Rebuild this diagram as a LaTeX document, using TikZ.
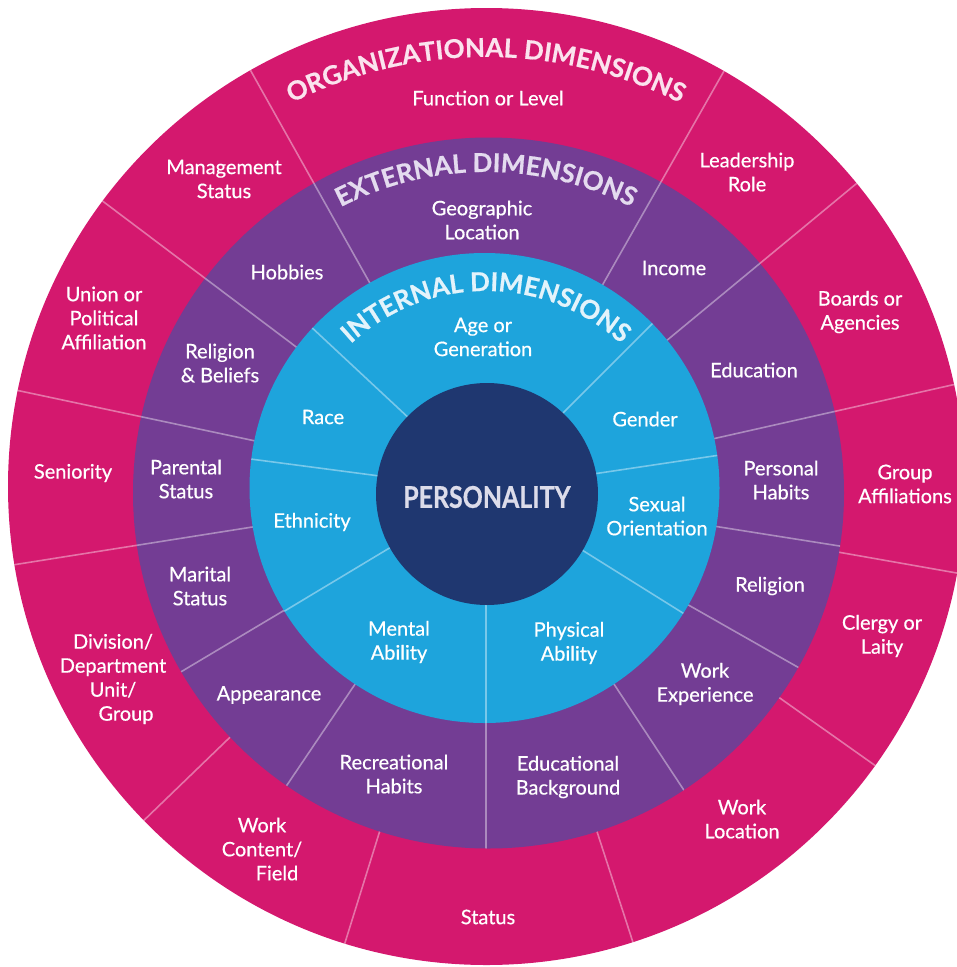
\documentclass[tikz,border=0pt]{standalone}
\usepackage{fontspec}
\setmainfont{Lato}
\newfontfamily\lblfont{Lato}[FakeBold=0.5]
\newfontfamily\ttlfont{Lato}[FakeBold=0.6]
\usepackage{graphicx}
\usepackage{xcolor}
\usetikzlibrary{decorations.text}
\definecolor{orgpink}{HTML}{D4186E}
\definecolor{extpurple}{HTML}{733D94}
\definecolor{intblue}{HTML}{1EA4DC}
\definecolor{corenavy}{HTML}{1F3770}
\definecolor{orgtitle}{HTML}{FBE3EE}
\definecolor{exttitle}{HTML}{E4DBEF}
\definecolor{inttitle}{HTML}{E3F3FB}
\definecolor{coretitle}{HTML}{DCDCEA}
\newcommand\ringtitle[3]{
  \path[decorate, decoration={text along path, text align=center,
    text={|\ttlfont\bfseries\fontsize{26}{30}\selectfont\color{#3}|#2}}]
    (486,-490) ++(170:#1) arc (170:10:#1);
}

\begin{document}
\begin{tikzpicture}[x=1pt, y=1pt,
	lbl/.style={text=white, align=center, inner sep=0pt, font=\lblfont\fontsize{20}{24}\selectfont},
	divline/.style={draw=white, draw opacity=0.4, line width=1.6pt},
	coretxt/.style={text=coretitle, inner sep=0pt, font=\ttlfont\bfseries\fontsize{30}{36}\selectfont}]
	    		\useasboundingbox (0,0) rectangle (957,-967);
	    		\fill[orgpink] (486.5,-486.5) circle (478.5);
	    		\begin{scope}
	    			\clip (486.5,-486.5) circle (478.5);
	    			\foreach \a in {12.7,39.6,60.4,119.3,143,168,189,224,252.7,288,324.7,350}
	    				\draw[divline] (486,-490) -- ++(\a:520);
	    		\end{scope}
	    		\fill[extpurple] (488.5,-493) circle (355.5);
	    		\begin{scope}
	    			\clip (488.5,-493) circle (355.5);
	    			\foreach \a in {12.7,39.6,60.4,119.3,143,168,189,210.8,236,270,303.4,330.4,351}
	    				\draw[divline] (486,-490) -- ++(\a:400);
	    		\end{scope}
	    		\fill[intblue] (484.5,-488) circle (235);
	    		\begin{scope}
	    			\clip (484.5,-488) circle (235);
	    			\foreach \a in {8.5,45,137,172.5,211,270,328}
	    				\draw[divline] (486,-490) -- ++(\a:260);
	    		\end{scope}
	    		\fill[corenavy] (487,-494) circle (111);
	    		\ringtitle{433}{ORGANIZATIONAL DIMENSIONS}{orgtitle}
	    		\ringtitle{318}{EXTERNAL DIMENSIONS}{exttitle}
	    		\ringtitle{199}{INTERNAL DIMENSIONS}{inttitle}
	    		\node[coretxt] (per) at (487,-497) {\scalebox{0.83}[1]{PERSONALITY}};
	    		\node[lbl] (fun) at (488,-98) {Function or Level};
	    		\node[lbl] (mgt) at (224,-179) {Management\\Status};
	    		\node[lbl] (uni) at (104,-318) {Union or\\Political\\Affiliation};
	    		\node[lbl] (sen) at (73,-473) {Seniority};
	    		\node[lbl] (div) at (113,-679) {Division/\\Department\\Unit/\\\hspace*{1.3em}Group};
	    		\node[lbl] (wcf) at (262,-849) {Work\\Content/\\\hspace*{1.5em}Field};
	    		\node[lbl] (sta) at (488,-917) {Status};
	    		\node[lbl] (wlo) at (742,-819) {Work\\Location};
	    		\node[lbl] (cle) at (882,-636) {Clergy or\\Laity};
	    		\node[lbl] (grp) at (905,-484) {Group\\Affiliations};
	    		\node[lbl] (brd) at (860,-312) {Boards or\\Agencies};
	    		\node[lbl] (lead) at (747,-172) {Leadership\\Role};
	    		\node[lbl] (geo) at (482,-220) {Geographic\\Location};
	    		\node[lbl] (hob) at (287,-272) {Hobbies};
	    		\node[lbl] (rel) at (220,-363) {Religion\\\& Beliefs};
	    		\node[lbl] (par) at (186,-479) {Parental\\Status};
	    		\node[lbl] (mar) at (200,-586) {Marital\\Status};
	    		\node[lbl] (app) at (269,-695) {Appearance};
	    		\node[lbl] (rec) at (394,-774) {Recreational\\Habits};
	    		\node[lbl] (edb) at (568,-777) {Educational\\Background};
	    		\node[lbl] (wex) at (705,-684) {Work\\Experience};
	    		\node[lbl] (rlg) at (770,-586) {Religion};
	    		\node[lbl] (phb) at (781,-480) {Personal\\Habits};
	    		\node[lbl] (edu) at (754,-370) {Education};
	    		\node[lbl] (inc) at (674,-268) {Income};
	    		\node[lbl] (age) at (483,-337) {Age or\\Generation};
	    		\node[lbl] (race) at (323,-417) {Race};
	    		\node[lbl] (eth) at (312,-522) {Ethnicity};
	    		\node[lbl] (men) at (399,-642) {Mental\\Ability};
	    		\node[lbl] (phy) at (569,-643) {Physical\\Ability};
	    		\node[lbl] (sex) at (657,-516) {Sexual\\Orientation};
	    		\node[lbl] (gen) at (645,-419) {Gender};
	    	\end{tikzpicture}
\end{document}
